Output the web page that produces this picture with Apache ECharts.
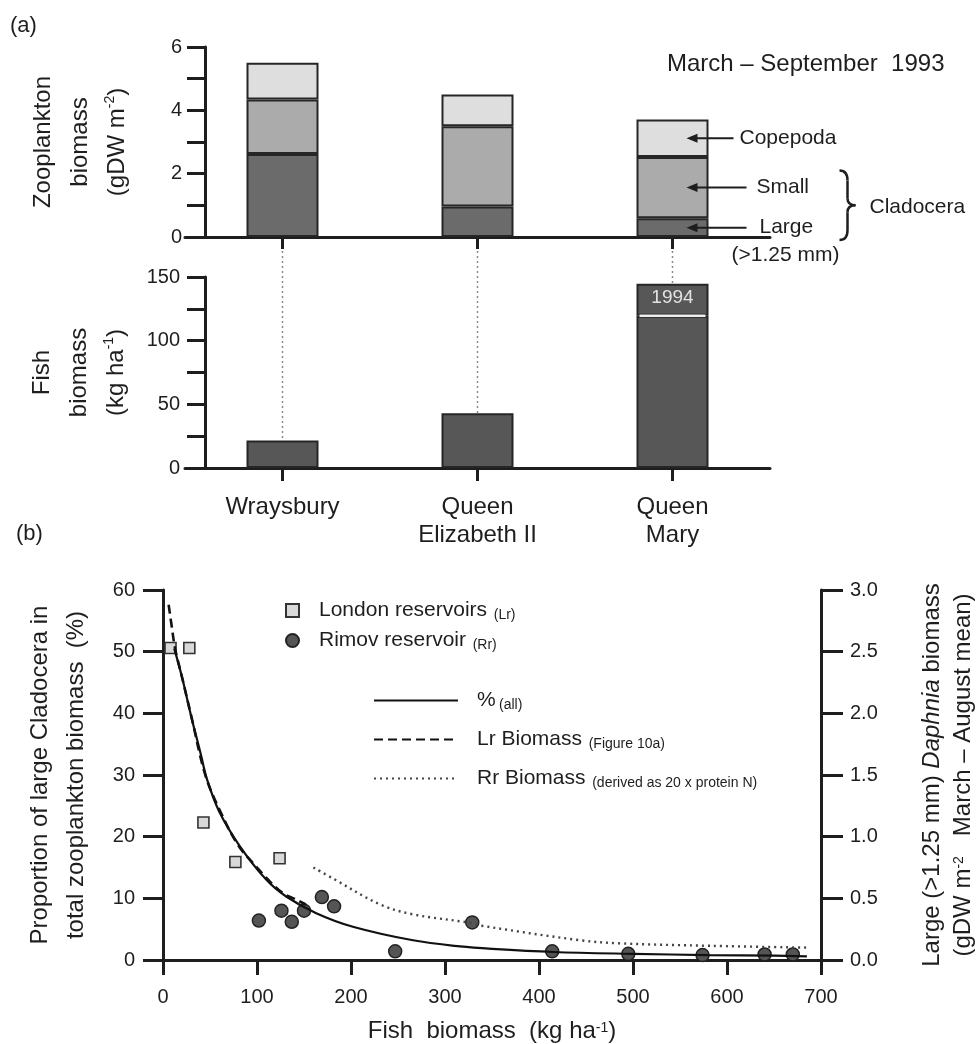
<!DOCTYPE html>
<html>
<head>
<meta charset="utf-8">
<script src="https://cdn.jsdelivr.net/npm/echarts@6/dist/echarts.min.js"></script>
<style>
  html, body { margin: 0; background: #fff; }
  #chart { width: 976px; height: 1044px; }
</style>
</head>
<body>
<div id="chart"></div>
<script>
// (a) reservoirs, March - September 1993
const reservoirs = ['Wraysbury', 'Queen\nElizabeth II', 'Queen\nMary'];
const largeClad = [2.62, 0.96, 0.59];
const smallClad = [1.72, 2.54, 1.94];
const copepoda = [1.16, 1.0, 1.18];
const fish1993 = [21.6, 43, 119.5];
const fish1994Extra = [null, null, 25.2];
const zooTickLabels = [0, 2, 4, 6];
const fishTickLabels = [0, 50, 100, 150];

// (b) proportion of large cladocera vs fish biomass
const londonFish = [8, 28, 43, 77, 124];
const londonPct = [50.6, 50.6, 22.3, 15.9, 16.5];
const rimovFish = [102, 126, 137, 150, 169, 182, 247, 329, 414, 495, 574, 640, 670];
const rimovPct = [6.4, 8.0, 6.2, 8.0, 10.2, 8.7, 1.4, 6.1, 1.4, 1.0, 0.8, 0.9, 0.9];
const fitAllFish = [12, 20, 30, 40, 47, 60, 82, 110, 131, 163, 202, 266, 316, 350, 415, 500, 580, 650, 685];
const fitAllPct = [50.5, 46, 39.5, 33.5, 29.2, 24, 18.4, 13, 10.3, 7.6, 5.4, 3.2, 2.2, 1.8, 1.3, 1.0, 0.8, 0.7, 0.6];
const lrFish = [6, 9, 13, 20, 30, 45, 60, 80, 100, 110, 126, 140, 152];
const lrBiomass = [2.88, 2.72, 2.52, 2.3, 1.98, 1.5, 1.22, 0.93, 0.75, 0.665, 0.55, 0.495, 0.45];
const rrFish = [160, 181, 231, 266, 328, 337, 444, 486, 582, 688];
const rrBiomass = [0.75, 0.66, 0.45, 0.37, 0.30, 0.28, 0.16, 0.135, 0.115, 0.10];

const FONT = '"Liberation Sans", Arial, sans-serif';
const INK = '#1e1e1e';

const fishTotals = fish1993.map((v, i) => v + (fish1994Extra[i] || 0));
const zip = (xs, ys) => xs.map((x, i) => [x, ys[i]]);

const chart = echarts.init(document.getElementById('chart'));

function nameRich(lh) {
    return {
        n: { fontSize: 24, fontFamily: FONT, color: INK, lineHeight: lh },
        it: { fontSize: 24, fontFamily: FONT, color: INK, lineHeight: lh, fontStyle: 'italic' },
        sup: { fontSize: 14, fontFamily: FONT, color: INK, lineHeight: 14, padding: [4, 0, 0, 0], verticalAlign: 'top' }
    };
}

const axisLine = { show: true, onZero: false, lineStyle: { color: INK, width: 3 } };
const tick = (len) => ({ show: true, length: len, lineStyle: { color: INK, width: 3 } });
const tickLabel = (margin, fmt) => ({ fontSize: 20, fontFamily: FONT, color: INK, margin: margin, formatter: fmt });

const legendRich = {
    m: { fontSize: 21, fontFamily: FONT, color: INK, lineHeight: 24 },
    s: { fontSize: 14, fontFamily: FONT, color: INK, lineHeight: 14, padding: [9, 0, 0, 0] }
};
const legendText = {
    'London reservoirs': '{m|London reservoirs}  {s|(Lr)}',
    'Rimov reservoir': '{m|Rimov reservoir}  {s|(Rr)}',
    '%': '{m|%} {s|(all)}',
    'Lr Biomass': '{m|Lr Biomass}  {s|(Figure 10a)}',
    'Rr Biomass': '{m|Rr Biomass}  {s|(derived as 20 x protein N)}'
};

const option = {
    animation: false,
    backgroundColor: '#fff',
    grid: [
        { left: 185, right: 206, top: 47, height: 190, outerBoundsMode: 'none' },
        { left: 185, right: 206, top: 277, height: 191, outerBoundsMode: 'none' },
        { left: 163, right: 155, top: 590, height: 370, outerBoundsMode: 'none' }
    ],
    legend: [
        {
            data: ['London reservoirs', 'Rimov reservoir'],
            orient: 'vertical', left: 280, top: 594,
            itemWidth: 13, itemHeight: 13, itemGap: 7,
            selectedMode: false,
            formatter: (n) => legendText[n],
            textStyle: { rich: legendRich, padding: [0, 0, 0, 15] }
        },
        {
            data: ['%', 'Lr Biomass', 'Rr Biomass'],
            orient: 'vertical', left: 368, top: 684,
            itemWidth: 84, itemHeight: 14, itemGap: 16,
            selectedMode: false,
            itemStyle: { opacity: 0 },
            formatter: (n) => legendText[n],
            textStyle: { rich: legendRich, padding: [0, 0, 0, 14] }
        }
    ],
    xAxis: [
        {
            type: 'category', gridIndex: 0, data: reservoirs,
            axisLine: axisLine,
            axisTick: Object.assign(tick(12), { alignWithLabel: true }),
            axisLabel: { show: false }
        },
        {
            type: 'category', gridIndex: 1, data: reservoirs,
            axisLine: axisLine,
            axisTick: Object.assign(tick(13), { alignWithLabel: true }),
            axisLabel: { fontSize: 24, lineHeight: 28, fontFamily: FONT, color: INK, margin: 25, interval: 0 }
        },
        {
            type: 'value', gridIndex: 2, min: 0, max: 700, interval: 100,
            axisLine: axisLine, axisTick: tick(15),
            axisLabel: tickLabel(27),
            splitLine: { show: false },
            name: '{n|Fish  biomass  (kg ha}{sup|-1}{n|)}',
            nameLocation: 'middle', nameGap: 57,
            nameTextStyle: { rich: nameRich(28) }
        }
    ],
    yAxis: [
        {
            type: 'value', gridIndex: 0, min: 0, max: 6, interval: 1, offset: -20,
            axisLine: axisLine, axisTick: tick(18),
            axisLabel: tickLabel(23, (v) => zooTickLabels.includes(v) ? String(v) : ''),
            splitLine: { show: false },
            name: '{n|Zooplankton}\n{n|biomass}\n{n|(gDW m}{sup|-2}{n|)}',
            nameLocation: 'middle', nameGap: 69,
            nameTextStyle: { rich: nameRich(37) }
        },
        {
            type: 'value', gridIndex: 1, min: 0, max: 150, interval: 25, offset: -20,
            axisLine: axisLine, axisTick: tick(18),
            axisLabel: tickLabel(25, (v) => fishTickLabels.includes(v) ? String(v) : ''),
            splitLine: { show: false },
            name: '{n|Fish}\n{n|biomass}\n{n|(kg ha}{sup|-1}{n|)}',
            nameLocation: 'middle', nameGap: 70,
            nameTextStyle: { rich: nameRich(37) }
        },
        {
            type: 'value', gridIndex: 2, min: 0, max: 60, interval: 10,
            axisLine: axisLine, axisTick: tick(20),
            axisLabel: tickLabel(28),
            splitLine: { show: false },
            name: '{n|Proportion of large Cladocera in}\n{n|total zooplankton biomass  (%)}',
            nameLocation: 'middle', nameGap: 69,
            nameTextStyle: { rich: nameRich(36) }
        },
        {
            type: 'value', gridIndex: 2, position: 'right', min: 0, max: 3, interval: 0.5,
            axisLine: axisLine, axisTick: tick(22),
            axisLabel: tickLabel(29, (v) => v.toFixed(1)),
            splitLine: { show: false },
            name: '{n|Large (>1.25 mm) }{it|Daphnia}{n| biomass}\n{n|(gDW m}{sup|-2}{n|   March – August mean)}',
            nameLocation: 'middle', nameGap: 96,
            nameTextStyle: { rich: nameRich(31) }
        }
    ],
    series: [
        {
            name: 'Large', type: 'bar', xAxisIndex: 0, yAxisIndex: 0, stack: 'zoo', barWidth: 72,
            itemStyle: { color: '#6b6b6b', borderColor: '#262626', borderWidth: 2 },
            data: largeClad
        },
        {
            name: 'Small', type: 'bar', xAxisIndex: 0, yAxisIndex: 0, stack: 'zoo', barWidth: 72,
            itemStyle: { color: '#ababab', borderColor: '#262626', borderWidth: 2 },
            data: smallClad
        },
        {
            name: 'Copepoda', type: 'bar', xAxisIndex: 0, yAxisIndex: 0, stack: 'zoo', barWidth: 72,
            itemStyle: { color: '#dedede', borderColor: '#262626', borderWidth: 2 },
            data: copepoda
        },
        {
            name: 'Fish 1993', type: 'bar', xAxisIndex: 1, yAxisIndex: 1, stack: 'fish', barWidth: 72,
            itemStyle: { color: '#575757', borderColor: '#262626', borderWidth: 2 },
            data: fish1993
        },
        {
            name: 'Fish 1994', type: 'bar', xAxisIndex: 1, yAxisIndex: 1, stack: 'fish', barWidth: 72,
            itemStyle: { color: '#575757', borderColor: '#262626', borderWidth: 2 },
            label: { show: true, position: 'insideTop', distance: 5, formatter: '1994', color: '#e2e2e2', fontSize: 19, fontFamily: FONT },
            data: fish1994Extra
        },
        {
            name: '%', type: 'line', xAxisIndex: 2, yAxisIndex: 2, symbol: 'none',
            smooth: 0.35,
            itemStyle: { color: '#111' },
            lineStyle: { color: '#111', width: 2.2 },
            data: zip(fitAllFish, fitAllPct)
        },
        {
            name: 'Lr Biomass', type: 'line', xAxisIndex: 2, yAxisIndex: 3, symbol: 'none',
            smooth: 0.35,
            itemStyle: { color: '#111' },
            lineStyle: { color: '#111', width: 2.6, type: [9, 5] },
            data: zip(lrFish, lrBiomass)
        },
        {
            name: 'Rr Biomass', type: 'line', xAxisIndex: 2, yAxisIndex: 3, symbol: 'none',
            smooth: 0.35,
            itemStyle: { color: '#444' },
            lineStyle: { color: '#444', width: 2.4, type: [2, 4] },
            data: zip(rrFish, rrBiomass)
        },
        {
            name: 'London reservoirs', type: 'scatter', xAxisIndex: 2, yAxisIndex: 2,
            symbol: 'rect', symbolSize: 11,
            itemStyle: { color: '#d9d9d9', borderColor: '#333', borderWidth: 1.6, opacity: 1 },
            data: zip(londonFish, londonPct)
        },
        {
            name: 'Rimov reservoir', type: 'scatter', xAxisIndex: 2, yAxisIndex: 2,
            symbol: 'circle', symbolSize: 13,
            itemStyle: { color: '#555', borderColor: '#222', borderWidth: 1.5, opacity: 1 },
            data: zip(rimovFish, rimovPct)
        }
    ]
};

chart.setOption(option);

// annotations placed from the axes' own pixel mapping
const px = (xi, yi, pt) => chart.convertToPixel({ xAxisIndex: xi, yAxisIndex: yi }, pt);
const txt = (text, x, y, size) => ({
    type: 'text', x: x, y: y, z: 20,
    style: { text: text, fill: INK, fontSize: size, fontFamily: FONT, align: 'left', verticalAlign: 'middle' }
});
function arrow(tail, tip, y) {
    return [
        { type: 'line', z: 20, shape: { x1: tail, y1: y, x2: tip + 8, y2: y }, style: { stroke: INK, lineWidth: 2 } },
        { type: 'polygon', z: 20, shape: { points: [[tip, y], [tip + 11, y - 4.5], [tip + 11, y + 4.5]] }, style: { fill: INK } }
    ];
}
const stroke = { stroke: INK, lineWidth: 2.5, fill: null };
const curve = (x1, y1, cx, cy, x2, y2) => ({
    type: 'bezierCurve', z: 20, shape: { x1: x1, y1: y1, cpx1: cx, cpy1: cy, x2: x2, y2: y2 }, style: stroke
});
const seg = (x1, y1, x2, y2) => ({ type: 'line', z: 20, shape: { x1: x1, y1: y1, x2: x2, y2: y2 }, style: stroke });

const g = [
    txt('(a)', 10, 26, 22),
    txt('(b)', 16, 534, 22),
    txt('March – September  1993', 667, 64, 24)
];

reservoirs.forEach((r, i) => {
    const base = px(0, 0, [i, 0]);
    const top = px(1, 1, [i, fishTotals[i]]);
    g.push({
        type: 'line', z: 1,
        shape: { x1: base[0], y1: base[1] + 14, x2: top[0], y2: top[1] },
        style: { stroke: '#8a8a8a', lineWidth: 1.5, lineDash: [2, 3] }
    });
});

// Queen Mary bar callouts
const qm = 2;
const qmCentre = px(0, 0, [qm, 0])[0];
const zeroY = px(0, 0, [qm, 0])[1];
const barRight = qmCentre + 36;
const yLarge = px(0, 0, [qm, largeClad[qm] / 2])[1];
const ySmall = px(0, 0, [qm, largeClad[qm] + smallClad[qm] / 2])[1];
const yCope = px(0, 0, [qm, largeClad[qm] + smallClad[qm] + copepoda[qm] / 2])[1];
const tip = barRight - 22;
g.push(...arrow(barRight + 25, tip, yCope), txt('Copepoda', barRight + 31, yCope, 21));
g.push(...arrow(barRight + 38, tip, ySmall), txt('Small', barRight + 48, ySmall, 21));
g.push(...arrow(barRight + 38, tip, yLarge), txt('Large', barRight + 51, yLarge, 21));

// curly brace grouping Small + Large
const bx = barRight + 131, by0 = ySmall - 17, by1 = zeroY + 3, bm = (by0 + by1) / 2;
g.push(
    curve(bx, by0, bx + 8, by0, bx + 8, by0 + 10),
    seg(bx + 8, by0 + 10, bx + 8, bm - 7),
    curve(bx + 8, bm - 7, bx + 8, bm, bx + 16, bm),
    curve(bx + 16, bm, bx + 8, bm, bx + 8, bm + 7),
    seg(bx + 8, bm + 7, bx + 8, by1 - 10),
    curve(bx + 8, by1 - 10, bx + 8, by1, bx, by1)
);
g.push(txt('Cladocera', bx + 30, bm + 2, 21));
g.push(txt('(>1.25 mm)', barRight + 23, zeroY + 18, 21));

// white rule between 1993 and 1994 in the Queen Mary fish bar
const sep = px(1, 1, [qm, fish1993[qm]]);
g.push({
    type: 'line', z: 20,
    shape: { x1: sep[0] - 33, y1: sep[1], x2: sep[0] + 33, y2: sep[1] },
    style: { stroke: '#eeeeee', lineWidth: 2.5 }
});

chart.setOption({ graphic: g });
window.addEventListener('resize', () => chart.resize());
</script>
</body>
</html>
